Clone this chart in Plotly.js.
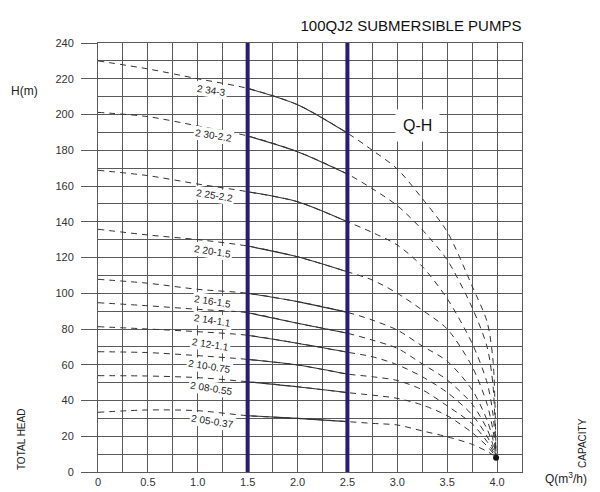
<!DOCTYPE html>
<html>
<head>
<meta charset="utf-8">
<script src="https://cdn.plot.ly/plotly-3.0.1.min.js"></script>
<style>
  html, body { margin: 0; padding: 0; background: #fff; }
  #chart { width: 600px; height: 492px; }
</style>
</head>
<body>
<div id="chart"></div>
<script>
// Flow points (m3/h) shared by every pump curve
var flow = [0, 0.5, 1.0, 1.5, 2.0, 2.5, 2.75, 3.0, 3.25, 3.5, 3.75, 3.9, 3.96, 3.99];

// Head (m) for each model
var head34 = [230, 225.5, 220, 214.6, 205.5, 189.6, 180, 169.5, 153, 134.4, 104, 84, 62, 8];
var head30 = [201.2, 198.8, 193.6, 188, 179.2, 166.7, 158.5, 149, 135.5, 118.6, 92, 70, 48, 8];
var head25 = [168.8, 165.8, 161.1, 156.8, 151.2, 140, 134, 127, 115, 97, 72, 50, 32, 8];
var head20 = [135.8, 132.6, 130, 126.4, 120.4, 112, 107.4, 100, 90.6, 80, 59, 38, 23, 8];
var head16 = [107.8, 105.6, 102.2, 100, 95.3, 89.3, 85, 79.4, 70.5, 62, 46, 29, 18, 8];
var head14 = [94.7, 93, 91, 89.1, 83.2, 77.6, 73.8, 69.2, 60.5, 51.5, 38, 24, 15, 8];
var head12 = [81.3, 80, 78.5, 76.5, 72, 67, 64.5, 60, 53.3, 44.5, 32, 20, 13, 8];
var head10 = [67.3, 66.8, 65.1, 63, 59.9, 54.8, 53.3, 51.2, 46, 37, 27, 17, 11.5, 8];
var head08 = [53.9, 53.7, 52.8, 50.5, 47.7, 44.4, 43, 41.2, 37.5, 31.5, 22, 14.5, 10.5, 8];
var head05 = [33.4, 34.7, 34.3, 31.5, 30, 28.2, 27.2, 26.3, 23, 19.7, 15.5, 11.5, 9.5, 8];

var models = ['2 34-3', '2 30-2.2', '2 25-2.2', '2 20-1.5', '2 16-1.5',
              '2 14-1.1', '2 12-1.1', '2 10-0.75', '2 08-0.55', '2 05-0.37'];
var heads = [head34, head30, head25, head20, head16, head14, head12, head10, head08, head05];

// where the model names sit
var labelQ = [1.14, 1.16, 1.17, 1.15, 1.15, 1.15, 1.13, 1.12, 1.14, 1.15];
var labelH = [213.7, 188, 154.6, 123.2, 95.3, 85, 71.6, 58.9, 46.8, 28.2];

// recommended working range
var workRange = [1.5, 2.5];

var xTicks = [0, 0.5, 1.0, 1.5, 2.0, 2.5, 3.0, 3.5, 4.0];
var xTickText = ['0', '0.5', '1.0', '1.5', '2.0', '2.5', '3.0', '3.5', '4.0'];

var FONT = 'Liberation Sans, Arial, sans-serif';
var GRID = '#5a5a5a';
var CURVE = '#333333';

function inRange(q) {
    return q >= workRange[0] - 1e-9 && q <= workRange[1] + 1e-9;
}

var data = [];
heads.forEach(function (h) {
    data.push({
        x: flow, y: h, mode: 'lines', type: 'scatter',
        line: {color: CURVE, width: 1, dash: '6px,5px', shape: 'spline', smoothing: 0.8}
    });
    var qs = [], hs = [];
    flow.forEach(function (q, i) {
        if (inRange(q)) { qs.push(q); hs.push(h[i]); }
    });
    data.push({
        x: qs, y: hs, mode: 'lines', type: 'scatter',
        line: {color: CURVE, width: 1.1, shape: 'spline', smoothing: 0.8}
    });
});

// shut-off point where the curves meet
data.push({
    x: [flow[flow.length - 1]], y: [head34[head34.length - 1]],
    mode: 'markers', type: 'scatter',
    marker: {color: '#111', size: 6}
});

var annotations = models.map(function (m, i) {
    return {
        x: labelQ[i], y: labelH[i], xref: 'x', yref: 'y',
        xanchor: 'center', yanchor: 'middle',
        text: m, showarrow: false, textangle: 9,
        bgcolor: '#fff', borderpad: 1,
        font: {family: FONT, size: 10, color: '#222'}
    };
});

function paperText(txt, x, y, size, angle) {
    return {
        x: x, y: y, xref: 'paper', yref: 'paper', text: txt,
        xanchor: 'center', yanchor: 'middle', showarrow: false,
        textangle: angle || 0,
        font: {family: FONT, size: size, color: '#222'}
    };
}

annotations.push({
    x: 3.2, y: 193.6, xref: 'x', yref: 'y', text: 'Q-H', showarrow: false,
    xanchor: 'center', yanchor: 'middle',
    bgcolor: '#fff', borderpad: 7,
    font: {family: FONT, size: 16, color: '#111'}
});
annotations.push(paperText('H(m)', -0.1745, 0.888, 12));
annotations.push(paperText('TOTAL HEAD', -0.179, 0.077, 10, -90));
annotations.push(paperText('CAPACITY', 1.144, 0.068, 10, -90));
annotations.push(paperText('Q(m<sup>3</sup>/h)', 1.104, -0.014, 12));

var shapes = workRange.map(function (q) {
    return {
        type: 'line', xref: 'x', yref: 'y', x0: q, x1: q, y0: 0, y1: 240,
        line: {color: '#2a1c74', width: 4}
    };
});

var layout = {
    width: 600, height: 492,
    margin: {l: 98, r: 78, t: 43, b: 20},
    paper_bgcolor: '#fff', plot_bgcolor: '#fff',
    showlegend: false,
    font: {family: FONT, size: 11, color: '#333'},
    title: {
        text: '100QJ2 SUBMERSIBLE PUMPS',
        x: 0.685, xanchor: 'center', xref: 'container',
        y: 0.947, yanchor: 'middle', yref: 'container',
        font: {family: FONT, size: 15, color: '#111'}
    },
    xaxis: {
        range: [0, 4.25], tickmode: 'array', tickvals: xTicks, ticktext: xTickText,
        ticks: '', showgrid: true, gridcolor: GRID, gridwidth: 1,
        minor: {tickmode: 'linear', tick0: 0, dtick: 0.25, showgrid: true, gridcolor: GRID, gridwidth: 1},
        zeroline: false, showline: true, linecolor: GRID, linewidth: 1, mirror: true,
        tickfont: {family: FONT, size: 11, color: '#333'}, fixedrange: true
    },
    yaxis: {
        range: [0, 240], tickmode: 'linear', tick0: 0, dtick: 20,
        ticks: 'outside', ticklen: 16, tickcolor: GRID, tickwidth: 1,
        ticklabelstandoff: 5,
        showgrid: true, gridcolor: GRID, gridwidth: 1,
        minor: {tickmode: 'linear', tick0: 0, dtick: 10, showgrid: true, gridcolor: GRID, gridwidth: 1},
        zeroline: false, showline: true, linecolor: GRID, linewidth: 1, mirror: true,
        tickfont: {family: FONT, size: 11, color: '#333'}, fixedrange: true
    },
    annotations: annotations,
    shapes: shapes
};

Plotly.newPlot('chart', data, layout, {staticPlot: true, displayModeBar: false});
</script>
</body>
</html>
